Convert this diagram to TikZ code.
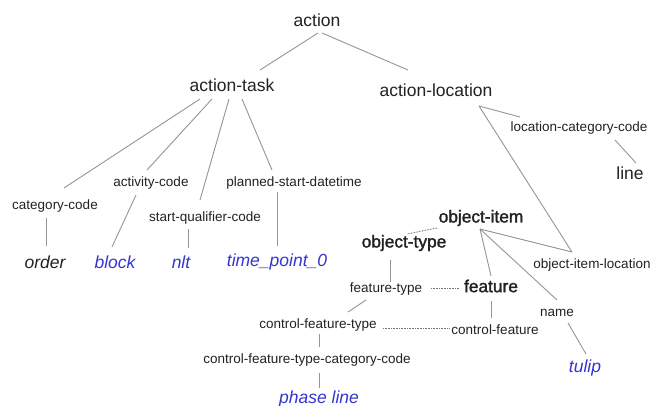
\documentclass[tikz,border=0pt]{standalone}
\usepackage{fontspec}
\setmainfont{Liberation Sans}
\newfontfamily\semibold[FakeBold=1.6]{Liberation Sans}
\definecolor{txt}{HTML}{222222}
\definecolor{val}{HTML}{3434D2}
\definecolor{edge}{HTML}{959595}
\tikzset{
  big/.style={font=\fontsize{17.5}{20}\selectfont, text=txt, inner sep=0pt},
  bigb/.style={font=\semibold\fontsize{17.3}{20}\selectfont, text=txt, inner sep=0pt},
  small/.style={font=\fontsize{13.5}{16}\selectfont, text=txt, inner sep=0pt},
  valb/.style={font=\fontsize{17.5}{20}\selectfont\itshape, text=val, inner sep=0pt},
  valk/.style={font=\fontsize{17.5}{20}\selectfont\itshape, text=txt, inner sep=0pt},
  link/.style={draw=edge, line width=0.9pt},
  dotlink/.style={draw=edge!80!black, line width=0.9pt, dash pattern=on 0.8pt off 0.8pt}
}
\begin{document}
\begin{tikzpicture}[x=1pt,y=-1pt]
\useasboundingbox[fill=white] (0,0) rectangle (653,406);
\node[big] (action) at (317,20) {action};
\node[big] (task) at (232,85) {action-task};
\node[big] (loc) at (436,90) {action-location};
\node[small] (lcc) at (579,128) {location-category-code};
\node[big] (line) at (630,173) {line};
\node[small] (cat) at (55,206) {category-code};
\node[small] (act) at (151,183) {activity-code};
\node[small] (psd) at (294,183) {planned-start-datetime};
\node[small] (sqc) at (205,218) {start-qualifier-code};
\node[valk] (order) at (45,262) {order};
\node[valb] (block) at (115,262) {block};
\node[valb] (nlt) at (181,262) {nlt};
\node[valb] (tp) at (277,262) {time\_point\_0};
\node[bigb] (oi) at (481,218) {object-item};
\node[bigb] (ot) at (404,243) {object-type};
\node[small] (oil) at (592,265) {object-item-location};
\node[small] (ft) at (386,289) {feature-type};
\node[bigb] (feat) at (491,286) {feature};
\node[small] (name) at (557,313) {name};
\node[small] (cft) at (318,325) {control-feature-type};
\node[small] (cf) at (495,330) {control-feature};
\node[small] (ctc) at (307,360) {control-feature-type-category-code};
\node[valb] (phase) at (319,399) {phase line};
\node[valb] (tulip) at (585,368) {tulip};

\draw[link] ([shift={(1,13)}]action.center) -- ([shift={(28,-15)}]task.center);
\draw[link] ([shift={(5,13)}]action.center) -- ([shift={(-28,-20)}]loc.center);
\draw[link] ([shift={(-32,14)}]task.center) -- ([shift={(9,-18)}]cat.center);
\draw[link] ([shift={(-20,14)}]task.center) -- ([shift={(-4,-13)}]act.center);
\draw[link] ([shift={(-3,14)}]task.center) -- ([shift={(-5,-18)}]sqc.center);
\draw[link] ([shift={(10,14)}]task.center) -- ([shift={(-22,-13)}]psd.center);
\draw[link] ([shift={(-15,12)}]act.center) -- ([shift={(-3,-15)}]block.center);
\draw[link] ([shift={(-9,12)}]cat.center) -- ([shift={(1,-16)}]order.center);
\draw[link] ([shift={(-17,11)}]sqc.center) -- ([shift={(7,-14)}]nlt.center);
\draw[link] ([shift={(-17,9)}]psd.center) -- ([shift={(0,-16)}]tp.center);
\draw[link] ([shift={(43,16)}]loc.center) -- ([shift={(-59,-11)}]lcc.center);
\draw[link] ([shift={(36,12)}]lcc.center) -- ([shift={(6,-10)}]line.center);
\draw[link] ([shift={(43,16)}]loc.center) -- ([shift={(-20,-13)}]oil.center);
\draw[link] ([shift={(-1,11)}]oi.center) -- ([shift={(-20,-13)}]oil.center);
\draw[link] ([shift={(-1,11)}]oi.center) -- ([shift={(0,-10)}]feat.center);
\draw[link] ([shift={(-1,11)}]oi.center) -- ([shift={(0,-13)}]name.center);
\draw[dotlink] ([shift={(-44,10)}]oi.center) -- ([shift={(3,-9)}]ot.center);
\draw[link] ([shift={(-14,17)}]ot.center) -- ([shift={(4,-7)}]ft.center);
\draw[link] ([shift={(-20,11)}]ft.center) -- ([shift={(30,-13)}]cft.center);
\draw[dotlink] ([shift={(45,-1)}]ft.center) -- ([shift={(-32,2)}]feat.center);
\draw[link] ([shift={(0,15)}]feat.center) -- ([shift={(-4,-12)}]cf.center);
\draw[dotlink] ([shift={(65,3)}]cft.center) -- ([shift={(-46,-2)}]cf.center);
\draw[link] ([shift={(1,9)}]cft.center) -- ([shift={(12,-13)}]ctc.center);
\draw[link] ([shift={(12,13)}]ctc.center) -- ([shift={(0,-11)}]phase.center);
\draw[link] ([shift={(11,10)}]name.center) -- ([shift={(1,-14)}]tulip.center);
\end{tikzpicture}
\end{document}
